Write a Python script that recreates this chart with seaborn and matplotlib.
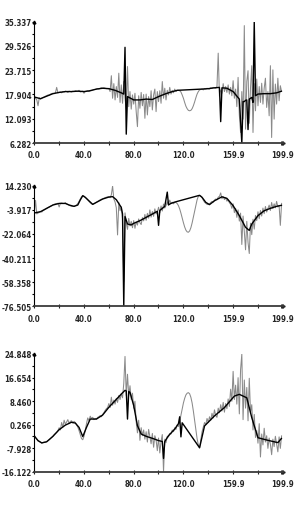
import numpy as np
import matplotlib
matplotlib.use("Agg")
import matplotlib.pyplot as plt
from matplotlib import font_manager as fm
import seaborn as sns

# ---------------- data ----------------
x_grid = np.arange(200)

# panel 1 (top)
p1_gray = [17.4, 17.0, 16.6, 15.2, 17.1, 16.8, 17.0, 17.2, 17.3, 17.5,
           17.6, 17.8, 17.7, 18.0, 18.1, 18.2, 18.1, 18.3, 19.6, 18.3,
           18.4, 18.5, 18.3, 18.6, 18.5, 18.7, 18.6, 18.4, 18.7, 18.6,
           18.5, 18.7, 18.6, 18.8, 18.7, 18.6, 18.9, 18.5, 18.6, 18.7,
           18.2, 18.6, 18.7, 18.8, 18.6, 18.9, 18.9, 19.0, 19.1, 19.1,
           19.2, 19.3, 19.2, 19.4, 19.5, 19.4, 19.5, 19.4, 19.3, 19.3,
           19.3, 18.6, 22.4, 17.0, 20.5, 16.6, 19.8, 17.2, 23.0, 16.0,
           20.2, 15.8, 21.0, 17.0, 14.5, 24.6, 15.0, 18.6, 14.4, 17.8,
           15.6, 18.2, 13.8, 10.2, 17.6, 14.6, 18.4, 15.2, 17.9, 12.2,
           18.0, 13.0, 17.4, 15.0, 18.8, 14.2, 17.8, 19.2, 13.8, 18.6,
           16.2, 18.8, 15.8, 21.0, 17.0, 19.4, 16.6, 18.9, 17.8, 19.6,
           18.0, 18.9, 18.3, 19.2, 18.6, 18.9, 18.9, 18.8, 18.5, 17.8,
           17.0, 16.0, 15.1, 14.5, 14.1, 14.0, 14.1, 14.5, 15.2, 16.1,
           17.1, 18.0, 18.6, 19.0, 19.1, 19.2, 19.0, 19.3, 19.2, 19.4,
           19.3, 19.2, 19.5, 19.4, 19.6, 19.5, 19.4, 19.8, 27.8, 17.5,
           19.0, 18.2, 20.5, 18.6, 19.8, 18.4, 20.2, 18.0, 19.6, 17.6,
           21.2, 17.0, 19.2, 15.0, 22.0, 13.0, 8.8, 18.6, 12.0, 34.4,
           9.6, 21.0, 23.6, 11.0, 19.6, 24.8, 8.8, 20.5, 14.0, 21.6,
           15.2, 19.8, 16.0, 20.6, 15.6, 19.4, 21.8, 14.8, 18.6, 12.8,
           24.8, 7.6, 23.8, 12.0, 20.4, 15.6, 21.8, 16.4, 20.0, 18.6]
p1_black_x = [0, 5, 10, 15, 20, 25, 30, 35, 40, 45, 50, 55, 60, 65, 70, 72, 73, 74, 75,
              80, 85, 90, 95, 100, 105, 110, 115, 135, 140, 145, 149, 150, 151, 155,
              160, 165, 167, 168, 169, 170, 171, 172, 173, 175, 176, 177, 178, 180,
              185, 190, 195, 199]
p1_black_y = [17.3, 16.9, 17.5, 18.1, 18.4, 18.6, 18.6, 18.7, 18.6, 18.8, 19.2, 19.4, 19.3,
              18.9, 18.3, 18.0, 29.2, 8.4, 17.4,
              16.6, 16.6, 16.8, 16.7, 17.4, 18.0, 18.5, 18.9, 19.2, 19.3, 19.5, 19.6, 11.4,
              19.5, 19.4,
              18.6, 16.8, 6.3, 16.2, 16.2, 16.5, 16.6, 9.5, 16.8, 17.2, 16.0, 35.3, 17.6, 18.0,
              18.1, 18.1, 18.3, 18.7]
p1_yticks = [6.282, 12.093, 17.904, 23.715, 29.526, 35.337]

# panel 2 (middle)
p2_gray = [-6.0, 3.2, -7.0, -6.4, -5.8, -5.2, -5.6, -4.6, -4.0, -3.4,
           -2.8, -2.2, -1.8, -1.2, -0.8, -0.2, 0.3, 0.6, 0.8, 1.0,
           -1.8, 1.0, 1.2, 0.9, 0.8, 1.4, 0.6, 0.2, -0.4, -0.9,
           -1.2, -1.4, -1.2, -0.8, -0.3, 0.8, 2.4, 4.2, 6.0, 6.8,
           6.4, 5.4, 4.6, 3.6, 2.4, 1.4, 0.6, 0.2, 0.6, 1.2,
           1.8, 2.4, 3.0, 3.6, 4.0, 4.4, 4.8, 5.2, 5.6, 5.8,
           5.9, 5.2, 7.4, 14.0, 4.2, 2.0, -2.4, -22.8, 1.6, -4.6,
           -1.8, -10.4, -58.0, -6.2, -14.0, -18.6, -10.4, -16.0, -12.6, -17.4,
           -12.0, -17.8, -13.0, -15.4, -10.8, -13.6, -15.0, -9.8, -12.2, -7.4,
           -11.8, -6.6, -10.2, -4.0, -9.4, -5.2, -8.8, -3.2, -7.0, -5.6,
           -2.0, -6.2, -1.0, -4.8, 0.4, -2.6, -0.8, 2.2, -0.4, 3.4,
           0.8, 1.8, 0.6, 1.6, 1.6, 0.8, -0.8, -3.2, -6.4, -10.0,
           -13.6, -16.8, -19.2, -20.5, -20.8, -19.8, -17.4, -13.8, -9.4, -4.6,
           -0.2, 3.6, 6.2, 6.8, 6.4, 5.2, 3.4, 1.8, 1.0, 0.2,
           0.0, 0.6, 1.6, 2.4, 1.8, 3.4, 4.2, 3.6, 5.6, 6.2,
           8.8, 4.4, 6.0, 3.8, 5.2, 2.6, 3.6, 1.4, 0.2, -2.8,
           0.6, -6.0, -2.8, -9.6, -4.0, -12.4, -6.4, -30.0, -8.6, -20.2,
           -34.0, -12.6, -28.4, -36.8, -14.0, -22.6, -11.0, -18.4, -8.2, -12.0,
           -5.4, -10.6, -4.4, -8.6, -2.6, -6.8, -1.4, -5.6, -3.0, -0.4,
           -4.4, 1.6, -3.0, 0.6, -2.4, 2.4, -1.8, -0.6, -15.6, 1.0]
p2_black_x = [0, 5, 10, 15, 20, 25, 28, 32, 35, 37, 39, 41, 43, 47, 50, 55, 60, 63, 66,
              70, 71, 72, 73, 75, 78, 80, 85, 90, 95, 99, 100, 101, 105, 107, 108, 110,
              113, 133, 135, 138, 141, 145, 151, 155, 160, 165, 170, 173, 175, 180, 185,
              190, 195, 199]
p2_black_y = [-6.3, -5.3, -2.8, -0.3, 0.9, 0.9, -0.3, -1.3, -0.3, 3.5, 6.7, 5.5, 3.7, 0.2,
              1.7, 4.2, 5.7, 6.0, 3.7,
              -2.1, -7.0, -76.5, -9.0, -14.6, -15.3, -14.1, -12.1, -9.6, -7.1, -5.0, -15.6,
              -4.4, -1.3, 9.4, -0.2, 0.9,
              1.9, 7.0, 5.5, 1.7, 0.0, 2.9, 5.9, 4.7, -0.8, -8.3, -17.1, -19.4, -14.6, -8.3,
              -4.6, -2.8, -1.3, -0.5]
p2_yticks = [-76.505, -58.358, -40.211, -22.064, -3.917, 14.230]

# panel 3 (bottom)
p3_gray = [-3.4, -4.2, -4.8, -5.4, -5.6, -5.9, -6.2, -6.0, -5.8, -5.9,
           -5.6, -5.3, -5.0, -4.6, -4.2, -3.8, -3.2, -2.8, -2.4, -1.8,
           -0.8, -1.6, 1.0, -0.6, 1.8, 0.4, 1.2, 2.0, 0.6, 1.4,
           1.6, 0.8, 1.4, 1.0, 0.2, -0.6, -1.8, -3.2, -4.6, -5.0,
           -3.8, -1.8, 0.6, 2.6, 1.6, 3.2, 2.4, 2.8, 2.0, 2.4,
           2.2, 2.8, 3.0, 3.4, 3.0, 3.8, 4.4, 5.2, 5.8, 6.2,
           7.6, 6.2, 9.8, 7.0, 8.8, 7.4, 9.4, 8.0, 10.4, 9.0,
           11.0, 9.6, 14.6, 24.0, 10.4, 17.8, 10.2, 13.8, 9.0, 11.2,
           6.0, 8.4, 1.2, -2.6, 1.8, -5.2, -0.8, -3.6, -1.6, -4.8,
           -2.2, -5.8, -1.4, -4.0, -6.4, -2.8, -7.6, -3.6, -5.0, -8.8,
           -4.4, -9.6, -5.6, -3.2, -16.1, -4.8, -6.0, -3.8, -4.0, -2.8,
           -3.0, -1.6, -2.2, -0.8, -1.4, 0.2, -0.4, 1.4, 3.6, 5.8,
           7.8, 9.4, 10.6, 11.2, 11.4, 11.0, 9.8, 7.8, 5.0, 1.8,
           -1.6, -4.6, -6.8, -7.8, -5.0, -2.2, -0.6, 1.0, 0.2, 2.4,
           1.0, 3.0, 1.8, 4.2, 2.6, 5.4, 3.4, 2.8, 6.0, 4.4,
           7.2, 5.0, 8.0, 4.6, 7.6, 5.8, 9.2, 6.6, 12.6, 8.4,
           18.8, 9.0, 14.0, 7.4, 16.6, 4.0, 19.4, 24.8, 2.0, 15.8,
           6.0, 13.2, 1.6, 16.4, 4.4, 7.2, -1.6, 3.8, -4.2, -1.8,
           -6.2, 0.6, -11.0, -3.0, -6.8, -1.0, -5.8, -3.6, -8.0, -4.4,
           -6.6, -10.2, -4.8, -7.4, -3.8, -6.4, -9.2, -4.0, -8.0, -3.6]
p3_black_x = [0, 3, 6, 10, 15, 20, 25, 30, 33, 36, 39, 42, 45, 50, 55, 60, 65, 70, 73, 74,
              75, 76, 77, 80, 83, 86, 90, 95, 100, 103, 104, 105, 108, 113, 116, 117, 118,
              119, 133, 137, 145, 153, 161, 165, 171, 175, 180, 188, 196, 199]
p3_black_y = [-3.7, -5.3, -6.1, -5.7, -3.8, -1.5, 0.1, 1.1, 0.8, -0.7, -3.9, -0.7, 2.2, 2.2,
              3.6, 6.3, 8.6, 10.9, 12.2, 12.0,
              2.2, 11.8, 11.5, 6.9, -0.1, -3.0, -3.8, -4.5, -5.3, -5.6, -11.5, -5.6, -3.6,
              -1.3, 0.6, 3.0, -4.0,
              0.9, -7.8, -0.2, 3.3, 6.2, 10.2, 10.8, 9.6, 2.7, -4.3, -5.2, -6.0, -4.5]
p3_yticks = [-16.122, -7.928, 0.266, 8.460, 16.654, 24.848]

x_tick_pos = [0.0, 19.99, 39.98, 59.97, 79.96, 99.95, 119.94, 139.93, 159.92, 179.91, 199.9]
x_tick_labels = ["0.0", "", "40.0", "", "80.0", "", "120.0", "", "159.9", "", "199.9"]

# ---------------- style ----------------
sns.set_style("white")
plt.rcParams["font.family"] = ["DejaVu Sans"]
plt.rcParams["axes.unicode_minus"] = False
tick_font = fm.FontProperties(family="DejaVu Sans", stretch="condensed",
                              weight="bold", size=5.7)

fig = plt.figure(figsize=(3.02, 5.10), dpi=100)
W, H = 302.0, 510.0
boxes = [(22.7, 144.0), (186.7, 307.3), (355.0, 472.7)]
panels = [(p1_gray, p1_black_x, p1_black_y, p1_yticks),
          (p2_gray, p2_black_x, p2_black_y, p2_yticks),
          (p3_gray, p3_black_x, p3_black_y, p3_yticks)]

for (top, bot), (gray, bx, by, yt) in zip(boxes, panels):
    ax = fig.add_axes([34.3 / W, 1 - bot / H, 248.4 / W, (bot - top) / H])
    sns.lineplot(x=x_grid, y=gray, ax=ax, color="#8a8a8a", lw=0.75,
                 estimator=None, sort=False)
    sns.lineplot(x=bx, y=by, ax=ax, color="black", lw=1.0,
                 estimator=None, sort=False)
    ax.set_xlim(0, 199.9)
    ax.set_ylim(yt[0], yt[-1])
    ax.set_xticks(x_tick_pos)
    ax.set_xticklabels(x_tick_labels, fontproperties=tick_font)
    ax.set_yticks(yt)
    ax.set_yticklabels([f"{v:.3f}" for v in yt], fontproperties=tick_font)
    ax.set_yticks([(a + b) / 2 for a, b in zip(yt[:-1], yt[1:])], minor=True)
    for s in ["top", "right"]:
        ax.spines[s].set_visible(False)
    ax.spines["left"].set_color("black")
    ax.spines["left"].set_linewidth(0.8)
    ax.spines["bottom"].set_color("#3a3a3a")
    ax.spines["bottom"].set_linewidth(1.3)
    ax.tick_params(axis="x", which="major", direction="inout", length=3.5,
                   width=0.8, color="#222222", pad=3.5)
    ax.tick_params(axis="y", which="both", direction="out", length=1.6,
                   width=0.8, color="black", pad=0.3)
    ax.tick_params(axis="both", which="both", bottom=True, left=True)
    ax.set_xlabel("")
    ax.set_ylabel("")
    ax.plot([1.0], [0.0], marker=">", ms=2.5, color="#222222",
            transform=ax.transAxes, clip_on=False)
    ax.plot([0.0], [1.0], marker="^", ms=2.0, color="black",
            transform=ax.transAxes, clip_on=False)
    ax.set_facecolor("white")

fig.savefig("out.png", dpi=100, facecolor="white")
